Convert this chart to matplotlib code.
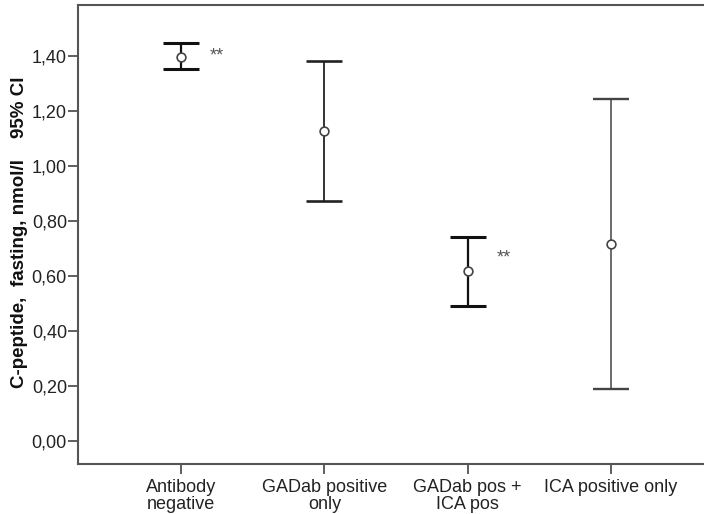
import matplotlib
matplotlib.use("Agg")
import matplotlib.pyplot as plt
import numpy as np

plt.rcParams['font.family'] = ['Liberation Sans', 'DejaVu Sans']

categories = ["Antibody\nnegative", "GADab positive\nonly", "GADab pos +\nICA pos", "ICA positive only"]
means = [1.397, 1.128, 0.616, 0.716]
lower = [1.353, 0.872, 0.492, 0.189]
upper = [1.446, 1.383, 0.741, 1.245]
line_widths = [1.6, 1.3, 1.6, 1.1]
line_colors = ["#111111", "#222222", "#111111", "#444444"]
star_labels = ["**", "", "**", ""]
star_y = [1.400, None, 0.665, None]
yticks = [0.0, 0.2, 0.4, 0.6, 0.8, 1.0, 1.2, 1.4]
ylabel = "C-peptide,  fasting, nmol/l    95% CI"

W, H = 704, 514
fig = plt.figure(figsize=(W / 100, H / 100), dpi=100)
ax = fig.add_axes([78 / W, (H - 464) / H, (704 - 78) / W, (464 - 5) / H])

x = np.arange(len(categories))
for i in range(len(categories)):
    ax.errorbar(x[i], means[i],
                yerr=[[means[i] - lower[i]], [upper[i] - means[i]]],
                fmt='none', ecolor=line_colors[i], elinewidth=line_widths[i],
                capsize=13, capthick=line_widths[i] + 0.6, zorder=2)
ax.plot(x, means, linestyle='none', marker='o', markersize=6.3,
        markerfacecolor='white', markeredgecolor='#444444', markeredgewidth=1.2, zorder=3)

for i, s in enumerate(star_labels):
    if s:
        ax.text(x[i] + 0.25, star_y[i], s, fontsize=13, color='#555555',
                ha='center', va='center')

ax.set_xlim(-0.719, 3.649)
ax.set_ylim(-0.084, 1.585)
ax.set_xticks(x)
ax.set_xticklabels(categories, fontsize=13, color='#222222', linespacing=0.95)
ax.set_yticks(yticks)
ax.set_yticklabels([f"{v:.2f}".replace('.', ',') for v in yticks], fontsize=13, color='#222222')
ax.tick_params(axis='y', direction='out', length=7, width=1.2, color='#444444', pad=1)
ax.tick_params(axis='x', direction='out', length=7, width=1.2, color='#444444', pad=4)

for side in ['left', 'bottom', 'top']:
    ax.spines[side].set_color('#555555')
    ax.spines[side].set_linewidth(1.5)
ax.spines['right'].set_visible(False)

ax.set_ylabel(ylabel, fontsize=13.5, fontweight='bold', color='#111111')
ax.yaxis.set_label_coords(-50 / (704 - 78), 0.505)

fig.savefig("out.png", dpi=100)
